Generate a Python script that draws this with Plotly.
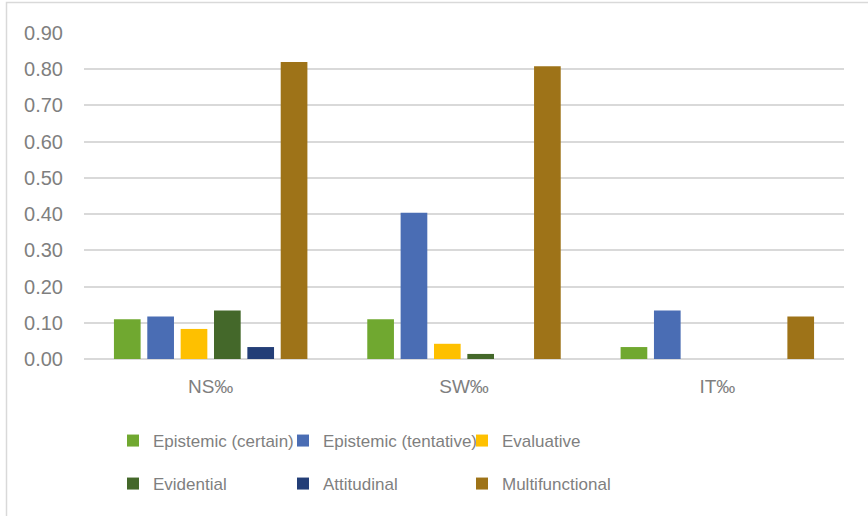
import plotly.graph_objects as go

categories = ["NS‰", "SW‰", "IT‰"]
series_names = ["Epistemic (certain)", "Epistemic (tentative)", "Evaluative",
                "Evidential", "Attitudinal", "Multifunctional"]
epistemic_certain = [0.11, 0.11, 0.033]
epistemic_tentative = [0.117, 0.404, 0.134]
evaluative = [0.083, 0.042, 0.0]
evidential = [0.134, 0.014, 0.0]
attitudinal = [0.033, 0.0, 0.0]
multifunctional = [0.82, 0.808, 0.117]
colors = ["#70a830", "#4a6db4", "#fec000", "#44682a", "#233e77", "#9e7318"]

values = [epistemic_certain, epistemic_tentative, evaluative,
          evidential, attitudinal, multifunctional]

W, H = 868, 516
L, R, T, B = 84, 24, 33, 157

# legend entry positions (px): column starts and row centres
leg_cols = [113, 283, 462]
leg_rows = [441, 484]

font_col = "#7f7f7f"
font_fam = "Liberation Sans, Arial, sans-serif"

fig = go.Figure()
legend_layout = {}
for i, (name, vals, col) in enumerate(zip(series_names, values, colors)):
    key = "legend" if i == 0 else f"legend{i + 1}"
    fig.add_trace(go.Bar(
        name=name, x=categories, y=vals, marker_color=col,
        marker_line_width=0, legend=key, showlegend=True,
    ))
    legend_layout[key] = dict(
        orientation="h", xref="container", yref="container",
        xanchor="left", yanchor="middle",
        x=leg_cols[i % 3] / W, y=1 - leg_rows[i // 3] / H,
        font=dict(size=17, color=font_col, family=font_fam),
        bgcolor="rgba(0,0,0,0)", itemclick=False, itemdoubleclick=False,
    )

pw = W - L - R
ph = H - T - B
fig.update_layout(
    width=W, height=H, showlegend=True,
    margin=dict(l=L, r=R, t=T, b=B),
    paper_bgcolor="white", plot_bgcolor="white",
    barmode="group", bargap=0.21, bargroupgap=0.2,
    font=dict(family=font_fam, color=font_col, size=20),
    xaxis=dict(showgrid=False, showline=False, ticks="",
               tickfont=dict(size=19, color=font_col), ticklabelstandoff=14),
    yaxis=dict(range=[0, 0.9], dtick=0.1, tickformat=".2f",
               gridcolor="#d9d9d9", gridwidth=1.5, zeroline=True,
               zerolinecolor="#d9d9d9", zerolinewidth=1.5, showline=False,
               ticks="", tickfont=dict(size=20, color=font_col),
               ticklabelstandoff=20),
    shapes=[dict(type="rect", xref="paper", yref="paper",
                 x0=(6.5 - L) / pw, x1=(W + 5 - L) / pw,
                 y0=-(H + 5 - (H - B)) / ph, y1=1 + (T - 2.5) / ph,
                 line=dict(color="#d9d9d9", width=1.5), layer="below")],
    **legend_layout,
)

fig.write_html("out.html")
